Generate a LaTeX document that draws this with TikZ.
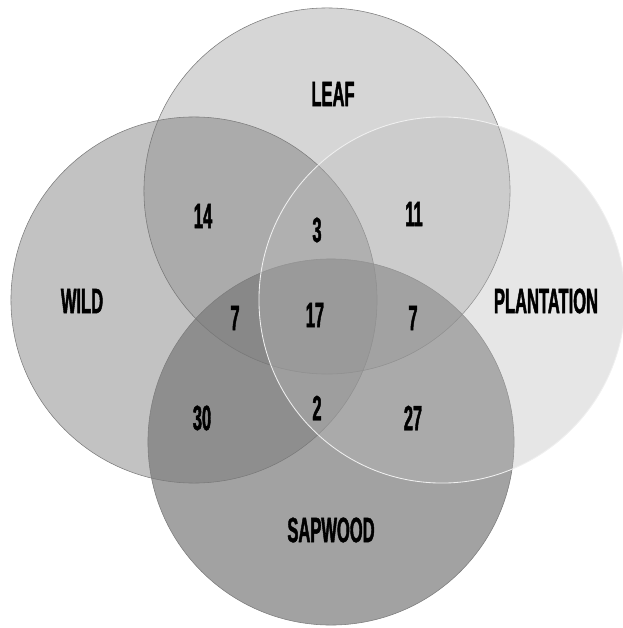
\documentclass[tikz,border=0pt]{standalone}
\usepackage{fontspec}
\newfontfamily\vennfont{Liberation Sans}[FakeStretch=0.47, FakeBold=1.2]
\definecolor{leafgray}{RGB}{120,120,120}
\definecolor{wildgray}{RGB}{116,116,116}
\definecolor{sapgray}{RGB}{120,120,120}
\definecolor{plantgray}{RGB}{186,186,186}
\definecolor{rimgray}{RGB}{125,125,125}
\definecolor{rimwhite}{RGB}{240,240,240}

\begin{document}
\begin{tikzpicture}[x=0.025cm, y=-0.025cm,
  vset/.style={circle, draw=rimgray, line width=0.4pt, minimum size=9.15cm, inner sep=0pt},
  lbl/.style={font=\vennfont\bfseries\fontsize{25}{28}\selectfont, text=black, inner sep=0pt}]
  \useasboundingbox (0,0) rectangle (622,628);
  % the four sets
  \node[vset, fill=leafgray, fill opacity=0.30] (leaf) at (327,191) {};
  \node[vset, fill=wildgray, fill opacity=0.44] (wild) at (194,300) {};
  \node[vset, fill=sapgray, fill opacity=0.69] (sap) at (331,442) {};
  \node[vset, fill=plantgray, fill opacity=0.36, draw=rimwhite, line width=0.6pt] (plant) at (442,300) {};
  % set names
  \node[lbl] (leaftxt) at (333,94) {LEAF};
  \node[lbl] (wildtxt) at (82,301) {WILD};
  \node[lbl] (planttxt) at (546,301) {PLANTATION};
  \node[lbl] (saptxt) at (331,530) {SAPWOOD};
  % counts
  \node[lbl] (nlw) at (203,216) {14};
  \node[lbl] (nlwp) at (317,230) {3};
  \node[lbl] (nlp) at (414,214) {11};
  \node[lbl] (nlws) at (235,318) {7};
  \node[lbl] (nall) at (315,315) {17};
  \node[lbl] (nlps) at (413,318) {7};
  \node[lbl] (nws) at (202,418) {30};
  \node[lbl] (nwps) at (317,408) {2};
  \node[lbl] (nps) at (413,418) {27};
\end{tikzpicture}
\end{document}
